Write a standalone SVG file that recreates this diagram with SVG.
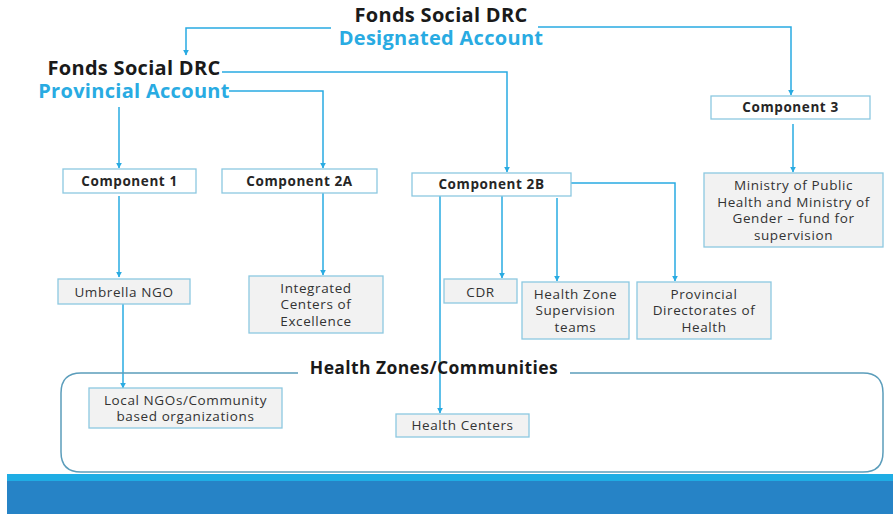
<svg xmlns="http://www.w3.org/2000/svg" width="893" height="514" viewBox="0 0 893 514">
<style>
.title{font-family:"Open Sans","Liberation Sans",sans-serif;font-weight:bold;font-size:20px;letter-spacing:0.3px;fill:#1a1a1a;text-anchor:middle}
.sub{font-family:"Open Sans","Liberation Sans",sans-serif;font-weight:bold;font-size:20px;letter-spacing:0.3px;fill:#29ABE2;text-anchor:middle}
.comp{fill:#ffffff;stroke:#8CC8E0;stroke-width:1.3}
.box{fill:#F2F2F2;stroke:#8CC8E0;stroke-width:1.3}
.ct{font-family:"Open Sans","Liberation Sans",sans-serif;font-weight:bold;font-size:13.5px;letter-spacing:0.6px;fill:#262626;text-anchor:middle}
.bt{font-family:"Open Sans","Liberation Sans",sans-serif;font-size:13.5px;letter-spacing:0.6px;fill:#333333;text-anchor:middle}
.conn{fill:none;stroke:#29ABE2;stroke-width:1.5}
</style>
<defs>
<marker id="arr" viewBox="0 0 10 10" refX="9" refY="5" markerWidth="6" markerHeight="6" markerUnits="userSpaceOnUse" orient="auto">
<path d="M0,0 L10,5 L0,10 z" fill="#29ABE2"/>
</marker>
</defs>

<g id="connectors">
<path class="conn" d="M331,28 H186 V55" marker-end="url(#arr)"/>
<path class="conn" d="M538,27 H791 V95" marker-end="url(#arr)"/>
<path class="conn" d="M222,72 H507 V172" marker-end="url(#arr)"/>
<path class="conn" d="M229,91 H323 V168" marker-end="url(#arr)"/>
<path class="conn" d="M119,107 V168" marker-end="url(#arr)"/>
<path class="conn" d="M793,124 V172" marker-end="url(#arr)"/>
<path class="conn" d="M119,196 V277" marker-end="url(#arr)"/>
<path class="conn" d="M323,193 V275" marker-end="url(#arr)"/>
<path class="conn" d="M123,304 V388" marker-end="url(#arr)"/>
<path class="conn" d="M440,196 V413" marker-end="url(#arr)"/>
<path class="conn" d="M502,196 V278" marker-end="url(#arr)"/>
<path class="conn" d="M557,198 V281" marker-end="url(#arr)"/>
<path class="conn" d="M571,183 H675 V281" marker-end="url(#arr)"/>
</g>

<g id="zone">
<path d="M298,373 H81 Q61,373 61,393 V452 Q61,472 81,472 H863 Q883,472 883,452 V393 Q883,373 863,373 H570" fill="none" stroke="#5B9DBB" stroke-width="1.5"/>
<text x="434" y="374" font-family="'Open Sans','Liberation Sans',sans-serif" font-weight="bold" font-size="17.5px" letter-spacing="0.4px" fill="#1a1a1a" text-anchor="middle">Health Zones/Communities</text>
</g>

<g id="designated">
<text class="title" x="441" y="22">Fonds Social DRC</text>
<text class="sub" x="441" y="45">Designated Account</text>
</g>

<g id="provincial">
<text class="title" x="134" y="75">Fonds Social DRC</text>
<text class="sub" x="134" y="98">Provincial Account</text>
</g>

<g id="component1">
<rect class="comp" x="63" y="169" width="133" height="24"/>
<text class="ct" x="129.5" y="186">Component 1</text>
</g>
<g id="component2a">
<rect class="comp" x="222" y="169" width="155" height="24"/>
<text class="ct" x="299.5" y="186">Component 2A</text>
</g>
<g id="component2b">
<rect class="comp" x="412" y="173" width="159" height="23"/>
<text class="ct" x="491.5" y="189">Component 2B</text>
</g>
<g id="component3">
<rect class="comp" x="711" y="96" width="159" height="23"/>
<text class="ct" x="790.5" y="112">Component 3</text>
</g>

<g id="ministry">
<rect class="box" x="704" y="173" width="179" height="74"/>
<text class="bt" x="793.5" y="190">Ministry of Public</text>
<text class="bt" x="793.5" y="207">Health and Ministry of</text>
<text class="bt" x="793.5" y="223">Gender – fund for</text>
<text class="bt" x="793.5" y="240">supervision</text>
</g>

<g id="umbrella">
<rect class="box" x="58" y="279" width="132" height="25"/>
<text class="bt" x="124" y="297">Umbrella NGO</text>
</g>

<g id="integrated">
<rect class="box" x="249" y="276" width="134" height="57"/>
<text class="bt" x="316" y="293">Integrated</text>
<text class="bt" x="316" y="309">Centers of</text>
<text class="bt" x="316" y="326">Excellence</text>
</g>

<g id="cdr">
<rect class="box" x="444" y="279" width="73" height="24"/>
<text class="bt" x="480.5" y="297">CDR</text>
</g>

<g id="hzsupervision">
<rect class="box" x="522" y="282" width="107" height="57"/>
<text class="bt" x="575.5" y="299">Health Zone</text>
<text class="bt" x="575.5" y="315">Supervision</text>
<text class="bt" x="575.5" y="332">teams</text>
</g>

<g id="provdirect">
<rect class="box" x="637" y="282" width="134" height="57"/>
<text class="bt" x="704" y="299">Provincial</text>
<text class="bt" x="704" y="315">Directorates of</text>
<text class="bt" x="704" y="332">Health</text>
</g>

<g id="localngo">
<rect class="box" x="89" y="388" width="193" height="40"/>
<text class="bt" x="185.5" y="405">Local NGOs/Community</text>
<text class="bt" x="185.5" y="421">based organizations</text>
</g>

<g id="healthcenters">
<rect class="box" x="396" y="414" width="133" height="23"/>
<text class="bt" x="462.5" y="430">Health Centers</text>
</g>

<g id="band">
<rect x="7" y="474" width="886" height="7" fill="#1FADE4"/>
<rect x="7" y="481" width="886" height="33" fill="#2683C6"/>
</g>
</svg>
